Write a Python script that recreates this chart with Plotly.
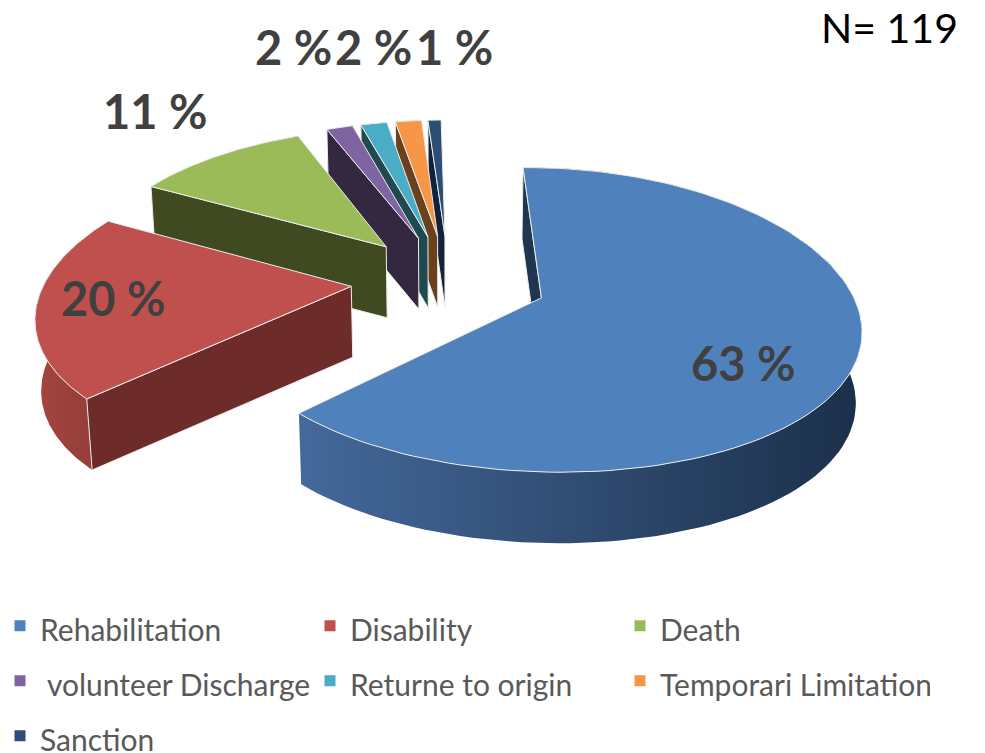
import numpy as np
import plotly.graph_objects as go

categories = ["Rehabilitation", "Disability", "Death", " volunteer Discharge",
              "Returne to origin", "Temporari Limitation", "Sanction"]
counts = [75, 24, 13, 2, 2, 2, 1]
labels = ["63 %", "20 %", "11 %", "2 %", "2 %", "", "1 %"]
top_colors = ["#4F81BD", "#C0504D", "#9BBB59", "#8064A2", "#4BACC6", "#F79646", "#2C4D75"]
cut_colors = ["#1F3550", "#6D2C2A", "#3F4A21", "#33283F", "#1F4A50", "#6B401C", "#10233A"]
wall_left = ["#44699B", "#A4443F", "#7E984A", "#6A5387", "#3E8EA3", "#CC7B3A", "#24405F"]
wall_right = ["#1B2F49", "#8F3C38", "#3F4A21", "#33283F", "#1F4A50", "#6B401C", "#10233A"]
label_xy = [(743, 363), (113, 298), (155, 111), (293, 47), (373, 47), (0, 0), (454, 47)]

CX, CY = 449, 280
R, A, KX, KY = 306, 144, 0.17, 0.142
EXPLODE = 0.32
START = -1.0
DEPTH, BOTTOM_SCALE = 71, 0.985


def project(u, v, bottom=False):
    x = CX + R * u / (1 + KX * v)
    y = CY - A * v / (1 + KY * v)
    if bottom:
        x = CX + (x - CX) * BOTTOM_SCALE
        y = y + DEPTH
    return x, y


def slice_geometry(a0, a1):
    mid = np.radians((a0 + a1) / 2)
    ox, oy = EXPLODE * np.sin(mid), EXPLODE * np.cos(mid)
    th = np.radians(np.linspace(a0, a1, 120))
    return ox, oy, ox + np.sin(th), oy + np.cos(th)


fig = go.Figure()


def poly(xs, ys, fill=None, grad=None, line="#EDEDED", lw=1.0):
    kw = dict(x=list(xs), y=list(ys), mode="lines", fill="toself", showlegend=False,
              hoverinfo="skip", line=dict(color=line, width=lw))
    if grad:
        kw["fillgradient"] = dict(type="horizontal", colorscale=[[0, grad[0]], [1, grad[1]]])
    else:
        kw["fillcolor"] = fill
    fig.add_trace(go.Scatter(**kw))


total = sum(counts)
edges = START + 360 * np.cumsum([0] + counts) / total
for i in reversed(range(len(counts))):
    ox, oy, us, vs = slice_geometry(edges[i], edges[i + 1])
    ax, ay = project(ox, oy)
    bx, by = project(ox, oy, True)
    tx, ty = project(us, vs)
    lx, ly = project(us, vs, True)
    # outer wall (its hidden back part is covered by the top face)
    poly(np.r_[tx, lx[::-1], tx[0]], np.r_[ty, ly[::-1], ty[0]],
         grad=(wall_left[i], wall_right[i]), line="rgba(255,255,255,0)", lw=0.5)
    # cut faces, only where the slice's interior lies above the cut edge
    ix, iy = tx[60] * 0.5 + ax * 0.5, ty[60] * 0.5 + ay * 0.5
    for j in (0, -1):
        dx = tx[j] - ax
        edge_y = ay + (ty[j] - ay) * (ix - ax) / dx if abs(dx) > 1e-6 else 1e9
        if iy < edge_y:
            poly([ax, tx[j], lx[j], bx, ax], [ay, ty[j], ly[j], by, ay], fill=cut_colors[i])
    # top face
    poly(np.r_[ax, tx, ax], np.r_[ay, ty, ay], fill=top_colors[i])

for name, color in zip(categories, top_colors):
    fig.add_trace(go.Scatter(x=[None], y=[None], mode="markers", name=f'<span style="font-size:30px">{name}</span>',
                             marker=dict(symbol="square", size=11, color=color)))

for text, (x, y) in zip(labels, label_xy):
    if text:
        fig.add_annotation(x=x, y=y, text=f"<b>{text}</b>", showarrow=False,
                           font=dict(family="Lato", size=47, color="#404040"))
fig.add_annotation(x=889, y=27, text="N= 119", showarrow=False,
                   font=dict(family="Lato", size=41, color="#000000"))

fig.update_layout(
    width=985, height=753, margin=dict(l=0, r=0, t=0, b=0, autoexpand=False),
    paper_bgcolor="white", plot_bgcolor="white",
    xaxis=dict(range=[0, 985], visible=False, domain=[0, 1]),
    yaxis=dict(range=[753, 0], visible=False, domain=[0, 1]),
    legend=dict(orientation="h", x=0.0, y=0.212, xanchor="left", yanchor="top",
                entrywidth=265, entrywidthmode="pixels", traceorder="normal",
                font=dict(family="Lato", size=40, color="#595959"),
                bgcolor="rgba(0,0,0,0)"),
)
fig.write_html("out.html", config={"displayModeBar": False},
               post_script="document.body.style.margin='0';document.documentElement.style.overflow='hidden';")
